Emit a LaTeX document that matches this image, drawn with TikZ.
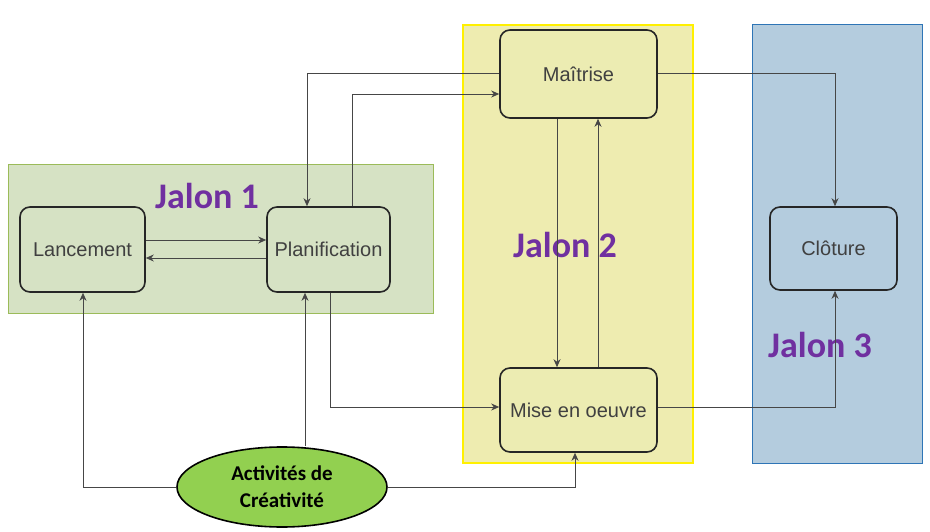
\documentclass[tikz,border=0pt]{standalone}
\usepackage{fontspec}
\setmainfont{Liberation Sans}
\newfontfamily\jal{Carlito}
\usetikzlibrary{arrows.meta,shapes.geometric}
\definecolor{gpan}{RGB}{214,226,196}\definecolor{gbor}{RGB}{155,187,89}
\definecolor{ypan}{RGB}{238,236,176}\definecolor{ybor}{RGB}{255,240,0}
\definecolor{bpan}{RGB}{180,204,222}\definecolor{bbor}{RGB}{46,117,182}
\definecolor{nfill}{RGB}{236,236,178}\definecolor{ell}{RGB}{146,208,80}
\definecolor{purp}{RGB}{112,48,160}\definecolor{ln}{RGB}{70,70,70}
\begin{document}
\begin{tikzpicture}[x=1pt,y=-1pt,
 box/.style={draw=black!85,line width=1.6pt,rounded corners=10pt,inner sep=0pt,font=\fontsize{20}{22}\selectfont,text=black!75},
 ar/.style={draw=ln,line width=0.8pt,-{Stealth[length=8pt,width=7pt]}},
 jal/.style={font=\jal\bfseries\fontsize{36}{40}\selectfont,text=purp}]
\useasboundingbox (0,0) rectangle (930,532);
\fill[white] (0,0) rectangle (930,532);
\draw[fill=gpan,draw=gbor,line width=1pt] (8,165) rectangle (433,313);
\draw[fill=ypan,draw=ybor,line width=1.5pt] (463,25) rectangle (693,463);
\draw[fill=bpan,draw=bbor,line width=1pt] (752,25) rectangle (922,463);
\node[box,fill=gpan,minimum width=125pt,minimum height=85pt] (lan) at (82.5,249.5) {Lancement};
\node[box,fill=gpan,minimum width=123pt,minimum height=85pt] (pla) at (328.5,249.5) {Planification};
\node[box,fill=nfill,minimum width=157pt,minimum height=88pt] (mai) at (578.5,74) {Maîtrise};
\node[box,fill=nfill,minimum width=157pt,minimum height=84pt] (mis) at (578.5,410) {Mise en oeuvre};
\node[box,fill=bpan,minimum width=127pt,minimum height=83pt] (clo) at (833.5,248.5) {Clôture};
\node[ellipse,draw=black,line width=1.6pt,fill=ell,minimum width=210pt,minimum height=80pt,align=center,font=\jal\bfseries\fontsize{21}{27}\selectfont] (act) at (282,487) {Activités de\\Créativité};
\node[jal] at (207,196) {Jalon 1};
\node[jal] at (565,245) {Jalon 2};
\node[jal] at (820,345) {Jalon 3};
\draw[ar] (lan.east|-0,240) -- (pla.west|-0,240);
\draw[ar] (pla.west|-0,258) -- (lan.east|-0,258);
\draw[ar] (mai.west|-0,73) -- (307,73) -- (307,0|-pla.north);
\draw[ar] (352,0|-pla.north) -- (352,94) -- (mai.west|-0,94);
\draw[ar] (mai.east|-0,73) -- (835,73) -- (835,0|-clo.north);
\draw[ar] (557,0|-mai.south) -- (557,0|-mis.north);
\draw[ar] (598,0|-mis.north) -- (598,0|-mai.south);
\draw[ar] (330,0|-pla.south) -- (330,407) -- (mis.west|-0,407);
\draw[ar] (mis.east|-0,407) -- (835,407) -- (835,0|-clo.south);
\draw[ar] (act.north-|305,0) -- (305,0|-pla.south);
\draw[ar] (act.west) -- (83,0|-act.west) -- (83,0|-lan.south);
\draw[ar] (act.east) -- (575,0|-act.east) -- (575,0|-mis.south);
\end{tikzpicture}
\end{document}
